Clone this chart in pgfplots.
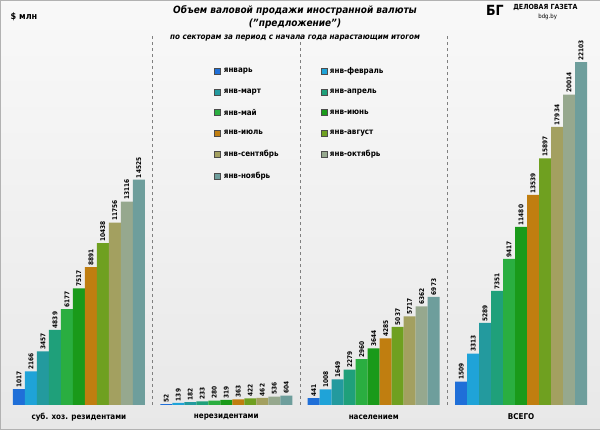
\documentclass[border=0pt]{standalone}
\usepackage{pgfplots}
\pgfplotsset{compat=1.18}
\usepackage{fontspec}
\setmainfont{DejaVu Sans Condensed}
\definecolor{c1}{HTML}{1F6FD8}
\definecolor{c2}{HTML}{1FA3D8}
\definecolor{c3}{HTML}{239A9E}
\definecolor{c4}{HTML}{1FA07A}
\definecolor{c5}{HTML}{2AAE40}
\definecolor{c6}{HTML}{1A9A1A}
\definecolor{c7}{HTML}{C07E10}
\definecolor{c8}{HTML}{6FA020}
\definecolor{c9}{HTML}{A3A060}
\definecolor{c10}{HTML}{96A88E}
\definecolor{c11}{HTML}{6E9E9C}
\begin{document}
\begin{tikzpicture}
\shade[top color=gray!5,bottom color=gray!18,draw=gray!60] (-5pt,-24pt) rectangle (595pt,405pt);
\begin{axis}[at={(0pt,0pt)},anchor=south west,scale only axis,width=590pt,height=380pt,
 ybar=0pt,bar width=12pt,ymin=0,ymax=24490,xmin=-0.5,xmax=3.5,
 axis lines=none,clip=false,
 every node near coord/.append style={rotate=90,anchor=west,font=\bfseries\fontsize{6.5}{6.5}\selectfont,inner sep=1.5pt,/pgf/number format/1000 sep={},/pgf/number format/assume math mode=true},
 nodes near coords,
 legend style={draw=none,fill=none,at={(0.5,0.9)},anchor=north,font=\bfseries\fontsize{8}{9}\selectfont,column sep=1pt,row sep=10pt,/tikz/every even column/.append style={column sep=40pt}},
 legend columns=2,legend cell align=left,
 legend image code/.code={\draw[#1,draw=black!70] (0pt,-3pt) rectangle (6pt,3pt);},
]
\draw[gray,dashed] (axis cs:0.5,0) -- (axis cs:0.5,23900);
\draw[gray,dashed] (axis cs:1.5,0) -- (axis cs:1.5,23900);
\draw[gray,dashed] (axis cs:2.5,0) -- (axis cs:2.5,23900);
\addplot[fill=c1,draw=none] coordinates {(0,1017)(1,52)(2,441)(3,1509)};
\addplot[fill=c2,draw=none] coordinates {(0,2166)(1,139)(2,1008)(3,3313)};
\addplot[fill=c3,draw=none] coordinates {(0,3457)(1,182)(2,1649)(3,5289)};
\addplot[fill=c4,draw=none] coordinates {(0,4839)(1,233)(2,2279)(3,7351)};
\addplot[fill=c5,draw=none] coordinates {(0,6177)(1,280)(2,2960)(3,9417)};
\addplot[fill=c6,draw=none] coordinates {(0,7517)(1,319)(2,3644)(3,11480)};
\addplot[fill=c7,draw=none] coordinates {(0,8891)(1,363)(2,4285)(3,13539)};
\addplot[fill=c8,draw=none] coordinates {(0,10438)(1,422)(2,5037)(3,15897)};
\addplot[fill=c9,draw=none] coordinates {(0,11756)(1,462)(2,5717)(3,17934)};
\addplot[fill=c10,draw=none] coordinates {(0,13116)(1,536)(2,6362)(3,20014)};
\addplot[fill=c11,draw=none] coordinates {(0,14525)(1,604)(2,6973)(3,22103)};
\legend{январь,янв-февраль,янв-март,янв-апрель,янв-май,янв-июнь,янв-июль,янв-август,янв-сентябрь,янв-октябрь,янв-ноябрь}
\end{axis}
\begin{scope}[every node/.style={font=\bfseries\fontsize{8}{9}\selectfont}]
\node at (73.75pt,-12pt) {суб. хоз. резидентами};
\node at (221.25pt,-12pt) {нерезидентами};
\node at (368.75pt,-12pt) {населением};
\node at (516.25pt,-12pt) {ВСЕГО};
\end{scope}
\node[font=\bfseries\itshape\fontsize{10}{11}\selectfont] at (290pt,395pt) {Объем валовой продажи иностранной валюты};
\node[font=\bfseries\itshape\fontsize{10}{11}\selectfont] at (290pt,381pt) {("предложение")};
\node[font=\bfseries\itshape\fontsize{8}{9}\selectfont] at (290pt,367pt) {по секторам за период с начала года нарастающим итогом};
\node[font=\bfseries\fontsize{9}{10}\selectfont,anchor=west] at (2pt,388pt) {\$ млн};
\node[font=\bfseries\fontsize{14}{14}\selectfont] at (490pt,395pt) {БГ};
\node[font=\bfseries\fontsize{7}{8}\selectfont,anchor=west] at (505pt,398pt) {ДЕЛОВАЯ ГАЗЕТА};
\node[font=\fontsize{6}{7}\selectfont,anchor=west] at (530pt,388pt) {bdg.by};
\end{tikzpicture}
\end{document}
